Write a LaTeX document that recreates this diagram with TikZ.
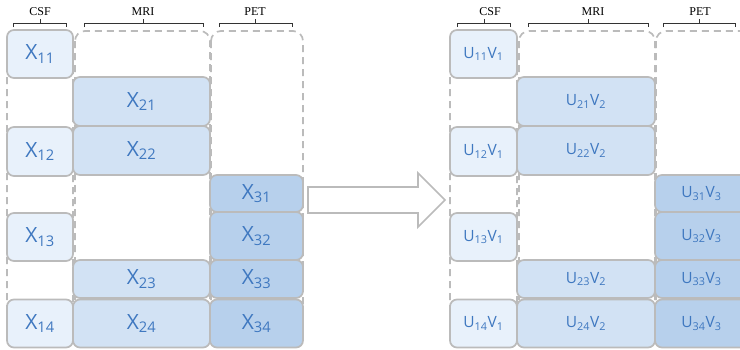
\documentclass[tikz,border=0pt]{standalone}
\usepackage{fontspec}
\setmainfont{Liberation Serif}
\newfontfamily\boxfont{Open Sans}
\definecolor{csfc}{HTML}{E8F1FB}
\definecolor{mric}{HTML}{D2E2F4}
\definecolor{petc}{HTML}{B7D0EC}
\definecolor{edgec}{HTML}{BBBBBB}
\definecolor{txtc}{HTML}{3F78C0}
\begin{document}
\begin{tikzpicture}[x=1pt,y=-1pt,
  cell/.style={draw=edgec,line width=1.7pt,rounded corners=7pt,inner sep=0pt,text=txtc},
  xlab/.style={font=\boxfont\fontsize{21}{23}\selectfont},
  ulab/.style={font=\boxfont\fontsize{15.5}{17}\selectfont},
  outline/.style={draw=edgec,line width=1.7pt,dashed,dash pattern=on 7pt off 5pt,rounded corners=10pt},
  brace/.style={draw=black!80,line width=0.8pt},
  head/.style={font=\fontsize{12}{13}\selectfont}]
\useasboundingbox[clip] (0,0) rectangle (740,349);
% ---------- left panel ----------
\draw[outline] (7,31) rectangle (73,347);
\draw[outline] (75,31) rectangle (210,347);
\draw[outline] (211,31) rectangle (303,347);
\node[cell,xlab,fill=csfc,minimum width=66pt,minimum height=48pt] (x11) at (40,54) {X\textsubscript{11}};
\node[cell,xlab,fill=csfc,minimum width=66pt,minimum height=49pt] (x12) at (40,151.5) {X\textsubscript{12}};
\node[cell,xlab,fill=csfc,minimum width=66pt,minimum height=48pt] (x13) at (40,237) {X\textsubscript{13}};
\node[cell,xlab,fill=csfc,minimum width=66pt,minimum height=48pt] (x14) at (40,323.5) {X\textsubscript{14}};
\node[cell,xlab,fill=mric,minimum width=137pt,minimum height=49pt] (x21) at (141.5,101.5) {X\textsubscript{21}};
\node[cell,xlab,fill=mric,minimum width=137pt,minimum height=49pt] (x22) at (141.5,150.5) {X\textsubscript{22}};
\node[cell,xlab,fill=mric,minimum width=137pt,minimum height=38pt] (x23) at (141.5,279) {X\textsubscript{23}};
\node[cell,xlab,fill=mric,minimum width=137pt,minimum height=48pt] (x24) at (141.5,323.5) {X\textsubscript{24}};
\node[cell,xlab,fill=petc,minimum width=93pt,minimum height=37pt] (x31) at (256.5,193.5) {X\textsubscript{31}};
\node[cell,xlab,fill=petc,minimum width=93pt,minimum height=48pt] (x32) at (256.5,236) {X\textsubscript{32}};
\node[cell,xlab,fill=petc,minimum width=93pt,minimum height=38pt] (x33) at (256.5,279) {X\textsubscript{33}};
\node[cell,xlab,fill=petc,minimum width=93pt,minimum height=48pt] (x34) at (256.5,323.5) {X\textsubscript{34}};
% braces left
\node[head] (lcsf) at (40,12) {CSF};
\node[head] (lmri) at (143,12) {MRI};
\node[head] (lpet) at (255,12) {PET};
\draw[brace] (13,27) -- (13,23) -- (66,23) -- (66,27) (40,23) -- (40,19);
\draw[brace] (84,27) -- (84,23) -- (203,23) -- (203,27) (143,23) -- (143,19);
\draw[brace] (219,27) -- (219,23) -- (292,23) -- (292,27) (255,23) -- (255,19);
% ---------- arrow ----------
\draw[draw=edgec,line width=1.7pt,fill=white] (308,187) -- (418,187) -- (418,173) -- (445,200) -- (418,227) -- (418,213) -- (308,213) -- cycle;
% ---------- right panel ----------
\draw[outline] (450,31) rectangle (517,347);
\draw[outline] (519,31) rectangle (655,347);
\draw[outline] (656,31) rectangle (750,347);
\node[cell,ulab,fill=csfc,minimum width=67pt,minimum height=48pt] (u11) at (483.5,54) {U\textsubscript{11}V\textsubscript{1}};
\node[cell,ulab,fill=csfc,minimum width=67pt,minimum height=49pt] (u12) at (483.5,151.5) {U\textsubscript{12}V\textsubscript{1}};
\node[cell,ulab,fill=csfc,minimum width=67pt,minimum height=48pt] (u13) at (483.5,237) {U\textsubscript{13}V\textsubscript{1}};
\node[cell,ulab,fill=csfc,minimum width=67pt,minimum height=48pt] (u14) at (483.5,323.5) {U\textsubscript{14}V\textsubscript{1}};
\node[cell,ulab,fill=mric,minimum width=138pt,minimum height=49pt] (u21) at (586,101.5) {U\textsubscript{21}V\textsubscript{2}};
\node[cell,ulab,fill=mric,minimum width=138pt,minimum height=49pt] (u22) at (586,150.5) {U\textsubscript{22}V\textsubscript{2}};
\node[cell,ulab,fill=mric,minimum width=138pt,minimum height=38pt] (u23) at (586,279) {U\textsubscript{23}V\textsubscript{2}};
\node[cell,ulab,fill=mric,minimum width=138pt,minimum height=48pt] (u24) at (586,323.5) {U\textsubscript{24}V\textsubscript{2}};
\node[cell,ulab,fill=petc,minimum width=93pt,minimum height=37pt] (u31) at (701.5,193.5) {U\textsubscript{31}V\textsubscript{3}};
\node[cell,ulab,fill=petc,minimum width=93pt,minimum height=48pt] (u32) at (701.5,236) {U\textsubscript{32}V\textsubscript{3}};
\node[cell,ulab,fill=petc,minimum width=93pt,minimum height=38pt] (u33) at (701.5,279) {U\textsubscript{33}V\textsubscript{3}};
\node[cell,ulab,fill=petc,minimum width=93pt,minimum height=48pt] (u34) at (701.5,323.5) {U\textsubscript{34}V\textsubscript{3}};
% braces right
\node[head] (rcsf) at (490,12) {CSF};
\node[head] (rmri) at (593,12) {MRI};
\node[head] (rpet) at (700,12) {PET};
\draw[brace] (457,27) -- (457,23) -- (510,23) -- (510,27) (484,23) -- (484,19);
\draw[brace] (528,27) -- (528,23) -- (648,23) -- (648,27) (588,23) -- (588,19);
\draw[brace] (663,27) -- (663,23) -- (735,23) -- (735,27) (699,23) -- (699,19);
\end{tikzpicture}
\end{document}
